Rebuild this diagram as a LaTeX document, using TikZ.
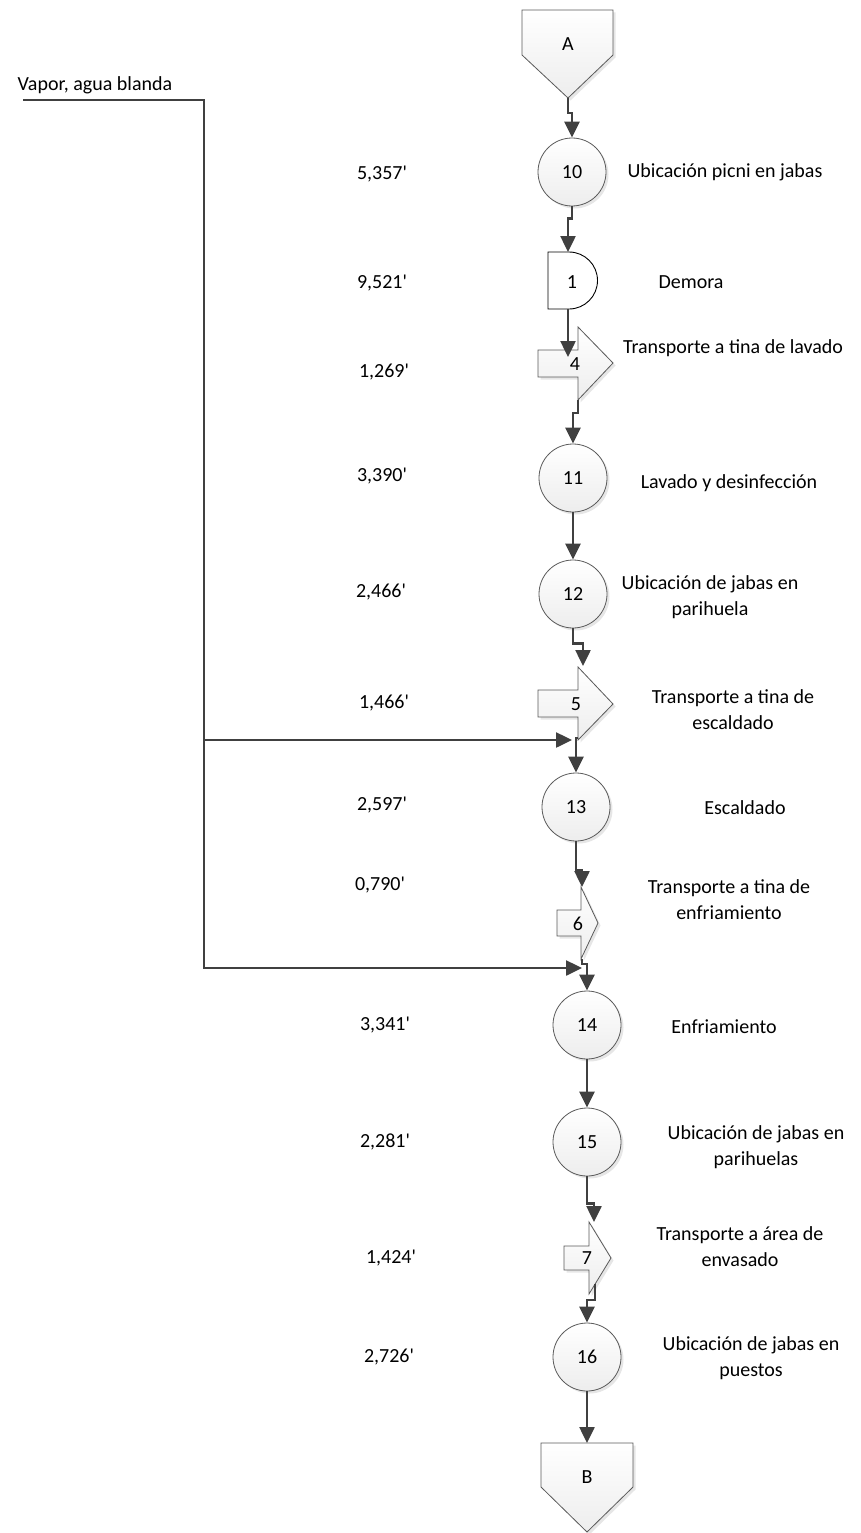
\documentclass[tikz,border=0pt]{standalone}
\usepackage{fontspec}
\setmainfont{Carlito}[Ligatures=TeXOff]
\usetikzlibrary{arrows.meta,shadows}
\definecolor{linec}{HTML}{404040}
\definecolor{edgec}{HTML}{5A5A5A}
\begin{document}
\begin{tikzpicture}[x=1pt,y=-1pt,
  every node/.style={font=\fontsize{20}{26}\selectfont, inner sep=0pt, align=center},
  flow/.style={draw=linec, line width=2.5pt, -{Triangle[length=16pt,width=15pt]}},
  soft/.style={drop shadow={shadow xshift=2.5pt,shadow yshift=-2.5pt,opacity=.2}},
  opshape/.style={circle, minimum size=68pt, draw=edgec, line width=0.8pt,
    top color=white, bottom color=black!7, soft},
  moveshape/.style={draw=edgec, line width=0.8pt, top color=white, bottom color=black!7, soft},
  linkshape/.style={draw=edgec, line width=0.8pt, top color=white, bottom color=black!7, soft},
  waitshape/.style={draw=black, line width=0.9pt, fill=white}]
\useasboundingbox (0,0) rectangle (860,1533);

% ---- connectors A and B
\draw[linkshape] (522,10) -- (613,10) -- (613,55) -- (568,98) -- (522,55) -- cycle;
\node (A) at (568,44) {A};
\coordinate (Atip) at (568,98);
\draw[linkshape] (541,1443) -- (633,1443) -- (633,1487) -- (587,1532) -- (541,1487) -- cycle;
\node (B) at (587,1477) {B};
\coordinate (Btop) at (587,1443);

% ---- operations
\node[opshape] (c10) at (572,172) {10};
\node[opshape] (c11) at (573,478) {11};
\node[opshape] (c12) at (573,594) {12};
\node[opshape] (c13) at (576,807) {13};
\node[opshape] (c14) at (587,1025) {14};
\node[opshape] (c15) at (587,1142) {15};
\node[opshape] (c16) at (587,1357) {16};

% ---- delay
\draw[waitshape] (548,252) -- (569,252) arc[start angle=90,end angle=-90,radius=28.5pt] -- (548,309) -- cycle;
\node (d1) at (572,282) {1};
\coordinate (d1top) at (568,252);
\coordinate (d1bot) at (568,309);

% ---- transports: shaft, neck, head and tip
\draw[moveshape] (538,350) -- (578,350) -- (578,327) -- (613,363) -- (578,400) -- (578,377) -- (538,377) -- cycle;
\node (t4) at (575,364) {4};
\draw[moveshape] (538,690) -- (578,690) -- (578,667) -- (613,704) -- (578,740) -- (578,717) -- (538,717) -- cycle;
\node (t5) at (576,704) {5};
\draw[moveshape] (557,910) -- (581,910) -- (581,887) -- (598,923) -- (581,959) -- (581,936) -- (557,936) -- cycle;
\node (t6) at (578,924) {6};
\draw[moveshape] (564,1246) -- (589,1246) -- (589,1222) -- (611,1258) -- (589,1294) -- (589,1270) -- (564,1270) -- cycle;
\node (t7) at (587,1258) {7};

\coordinate (a4in) at (568,357);
\coordinate (a4out) at (578,400);
\coordinate (a5in) at (583,666);
\coordinate (a5out) at (578,738);
\coordinate (a6in) at (582,887);
\coordinate (a6out) at (582,959);
\coordinate (a7in) at (594,1222);
\coordinate (a7out) at (595,1284);

% ---- main flow
\draw[flow] (Atip) -- ++(0,15) -| (c10.north);
\draw[flow] (c10.south) -- ++(0,12) -| (d1top);
\draw[flow] (d1bot) -- (a4in);
\draw[flow] (a4out) -- ++(0,13) -| (c11.north);
\draw[flow] (c11.south) -- (c12.north);
\draw[flow] (c12.south) -- ++(0,15) -| (a5in);
\draw[flow] (a5out) -| (c13.north);
\draw[flow] (c13.south) -- ++(0,29) -| (a6in);
\draw[flow] (a6out) -- ++(0,5) -| (c14.north);
\draw[flow] (c14.south) -- (c15.north);
\draw[flow] (c15.south) -- ++(0,27) -| (a7in);
\draw[flow] (a7out) -- ++(0,16) -| (c16.north);
\draw[flow] (c16.south) -- (Btop);

% ---- steam and soft water supply
\node (vapor) at (95,85) {Vapor, agua blanda};
\coordinate (vs) at (23,100);
\coordinate (vc) at (204,100);
\coordinate (vb1) at (204,740);
\coordinate (vb2) at (204,968);
\coordinate (m5) at (572,740);
\coordinate (m6) at (582,968);
\draw[flow] (vs) -- (vc) -- (vb2) -- (m6);
\draw[flow] (vb1) -- (m5);

% ---- times
\node (s10) at (382,174) {5,357'};
\node (sd1) at (382,283) {9,521'};
\node (s4)  at (384,372) {1,269'};
\node (s11) at (382,476) {3,390'};
\node (s12) at (381,592) {2,466'};
\node (s5)  at (384,703) {1,466'};
\node (s13) at (382,805) {2,597'};
\node (s6)  at (380,885) {0,790'};
\node (s14) at (385,1025) {3,341'};
\node (s15) at (385,1142) {2,281'};
\node (s7)  at (391,1258) {1,424'};
\node (s16) at (389,1357) {2,726'};

% ---- descriptions
\node (l10) at (725,172) {Ubicación picni en jabas};
\node (ld1) at (691,282) {Demora};
\node (l4)  at (733,348) {Transporte a tina de lavado};
\node (l11) at (729,483) {Lavado y desinfección};
\node (l12) at (710,597) {Ubicación de jabas en\\parihuela};
\node (l5)  at (733,710) {Transporte a tina de\\escaldado};
\node (l13) at (745,808) {Escaldado};
\node (l6)  at (729,900) {Transporte a tina de\\enfriamiento};
\node (l14) at (724,1027) {Enfriamiento};
\node (l15) at (756,1147) {Ubicación de jabas en\\parihuelas};
\node (l7)  at (740,1247) {Transporte a área de\\envasado};
\node (l16) at (751,1358) {Ubicación de jabas en\\puestos};
\end{tikzpicture}
\end{document}
